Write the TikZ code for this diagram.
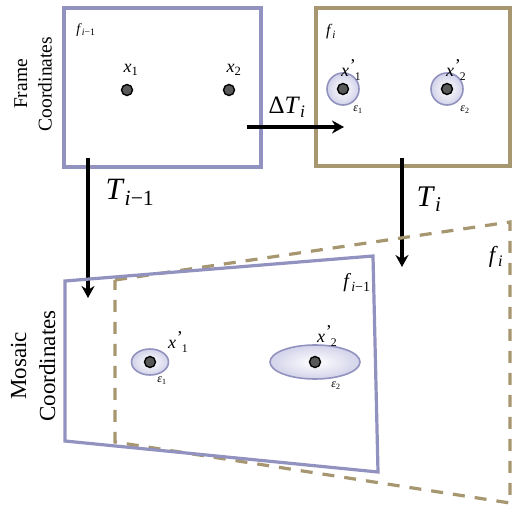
\documentclass[tikz,border=0pt]{standalone}
\usepackage{fontspec}
\setmainfont{Liberation Serif}
\usetikzlibrary{arrows.meta,shapes.geometric}
\definecolor{lav}{RGB}{146,146,192}
\definecolor{tan}{RGB}{166,151,112}
\definecolor{lavfill}{RGB}{210,210,234}
\newcommand\mysub[2]{\textit{#1}\textsubscript{#2}}
\newcommand\myprime[2]{\textit{#1}\kern0.04em\raisebox{0.28em}{\upshape\char"0027}\kern-0.05em\raisebox{-0.22em}{\scalebox{0.65}{#2}}}
\newcommand\fs[1]{\fontsize{#1}{#1}\selectfont}
\begin{document}
\begin{tikzpicture}[x=1pt,y=-1pt,
  framebox/.style={draw, line width=3.2pt, inner sep=0pt},
  arr/.style={line width=3.2pt, -{Stealth[length=12pt,width=13pt]}},
  dot/.style={circle, draw=black, line width=1.4pt, fill=black!65, minimum size=11pt, inner sep=0pt},
  unc/.style={draw=lav, line width=1.6pt, inner color=white, outer color=lavfill},
  lbl/.style={inner sep=0pt}]
\useasboundingbox (0,0) rectangle (512,508);
\fill[white] (0,0) rectangle (512,508);

% side labels
\node[lbl, rotate=90, align=center, font=\fs{19.5}] (lf) at (33,84) {Frame\\[5pt]Coordinates};
\node[lbl, rotate=90, align=center, font=\fs{23}] (lm) at (33,366) {Mosaic\\[6pt]Coordinates};

% top frames
\node[framebox, draw=lav, minimum width=197pt, minimum height=159pt] (fa) at (162.5,87.5) {};
\node[framebox, draw=tan, minimum width=194pt, minimum height=158pt] (fb) at (413,87) {};

\node[lbl, font=\fs{14}] (fal) at (86,30) {\mysub{f}{\textit{i}−1}};
\node[lbl, font=\fs{16}] (fbl) at (331,32) {\mysub{f}{\textit{i}}};

% top points
\node[circle, unc, minimum size=32pt, inner sep=0pt] (c1) at (343,89) {};
\node[circle, unc, minimum size=32pt, inner sep=0pt] (c2) at (447,89) {};
\node[dot] (p1) at (127,90) {};
\node[dot] (p2) at (229,90) {};
\node[dot] (q1) at (343,89) {};
\node[dot] (q2) at (447,89) {};
\node[lbl, font=\fs{18}] (lp1) at (131,70) {\mysub{x}{1}};
\node[lbl, font=\fs{18}] (lp2) at (234,70) {\mysub{x}{2}};
\node[lbl, font=\fs{18}] (lq1) at (351,70) {\myprime{x}{1}};
\node[lbl, font=\fs{18}] (lq2) at (456,70) {\myprime{x}{2}};
\node[lbl, font=\fs{12}] (e1) at (358,110) {\mysub{ε}{1}};
\node[lbl, font=\fs{12}] (e2) at (465,110) {\mysub{ε}{2}};

% arrows
\coordinate (a1s) at (88,158); \coordinate (a1e) at (88,298);
\coordinate (a2s) at (247,127); \coordinate (a2e) at (344,127);
\coordinate (a3s) at (402,158); \coordinate (a3e) at (402,267);
\draw[arr] (a1s) -- (a1e);
\draw[arr] (a2s) -- (a2e);
\draw[arr] (a3s) -- (a3e);
\node[lbl, font=\fs{31}] (t1) at (130,192) {\mysub{T}{\textit{i}−1}};
\node[lbl, font=\fs{25}] (t2) at (287,107) {Δ\mysub{T}{\textit{i}}};
\node[lbl, font=\fs{30}] (t3) at (429,199) {\mysub{T}{\textit{i}}};

% mosaic frames
\coordinate (m1) at (65,281); \coordinate (m2) at (373,256);
\coordinate (m3) at (378,472); \coordinate (m4) at (65,441);
\coordinate (n1) at (115,280); \coordinate (n2) at (510,222);
\coordinate (n3) at (510,503); \coordinate (n4) at (115,442);
\draw[tan, line width=3.2pt, dash pattern=on 12pt off 10pt] (n1) -- (n2) -- (n3) -- (n4) -- cycle;
\draw[lav, line width=3.2pt, line join=miter] (m1) -- (m2) -- (m3) -- (m4) -- cycle;

\node[lbl, font=\fs{20}] (fml) at (357,283) {\mysub{f}{\textit{i}−1}};
\node[lbl, font=\fs{23}] (fnl) at (496,257) {\mysub{f}{\textit{i}}};

% mosaic points
\node[ellipse, unc, minimum width=37pt, minimum height=26pt, inner sep=0pt] (u1) at (150,362) {};
\node[ellipse, unc, minimum width=90pt, minimum height=34pt, inner sep=0pt] (u2) at (315,362) {};
\node[dot] (r1) at (150,362) {};
\node[dot] (r2) at (315,362) {};
\node[lbl, font=\fs{18}] (lr1) at (178,342) {\myprime{x}{1}};
\node[lbl, font=\fs{18}] (lr2) at (327,336) {\myprime{x}{2}};
\node[lbl, font=\fs{12}] (er1) at (162,381) {\mysub{ε}{1}};
\node[lbl, font=\fs{12}] (er2) at (336,386) {\mysub{ε}{2}};
\end{tikzpicture}
\end{document}
